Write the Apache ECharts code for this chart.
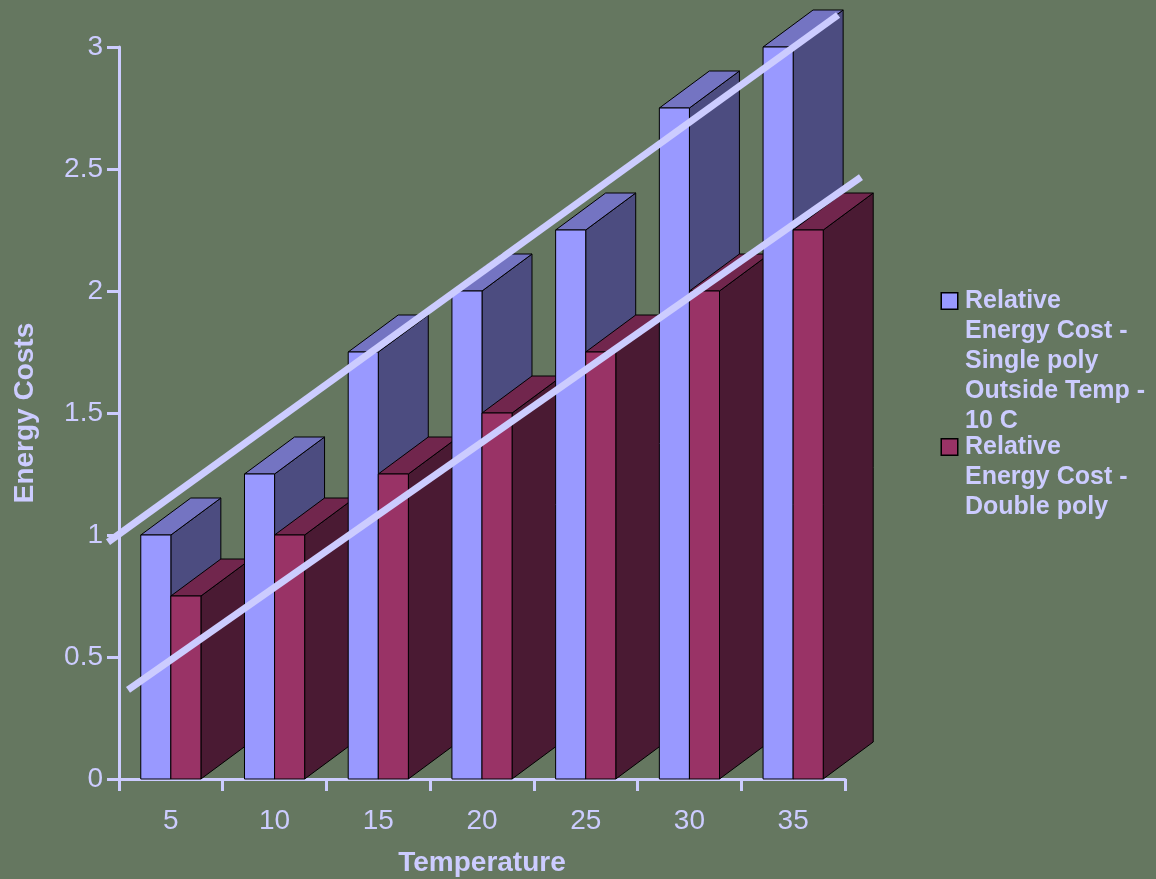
<!DOCTYPE html>
<html>
<head>
<meta charset="utf-8">
<title>Energy Costs vs Temperature</title>
<script src="https://cdn.jsdelivr.net/npm/echarts@6/dist/echarts.min.js"></script>
<style>
  html, body { margin: 0; padding: 0; background: #657760; }
  #chart { width: 1156px; height: 879px; }
</style>
</head>
<body>
<div id="chart"></div>
<script>
// Temperature categories along the x axis
const temperatures = ['5', '10', '15', '20', '25', '30', '35'];

// Relative energy cost per series
const singlePoly = [1, 1.25, 1.75, 2, 2.25, 2.75, 3];
const doublePoly = [0.75, 1, 1.25, 1.5, 1.75, 2, 2.25];

// Trend line end points: [category position, cost, category position, cost]
const trendSingle = [-0.106, 0.971, 6.933, 3.131];
const trendDouble = [0.087, 0.365, 7.154, 2.467];

// Y axis ticks
const yTicks = { min: 0, max: 3, interval: 0.5 };

// Legend wording, one entry per line
const singleName = 'Relative Energy Cost - Single poly Outside Temp - 10 C';
const doubleName = 'Relative Energy Cost - Double poly';
const legendLines = {};
legendLines[singleName] = ['Relative', 'Energy Cost -', 'Single poly', 'Outside Temp -', '10 C'];
legendLines[doubleName] = ['Relative', 'Energy Cost -', 'Double poly'];

const FONT = '"Liberation Sans", Arial, Helvetica, sans-serif';
const INK = '#CCCCFF';

const palette = {
  single: { front: '#9999FF', top: '#7474C2', side: '#4C4C80' },
  double: { front: '#993366', top: '#71264D', side: '#4A1A33' }
};

// Pseudo-3D bar: front face, top face and right side face.
function makeBar3D(colors, slot) {
  return function (params, api) {
    const i = api.value(0);
    const v = api.value(1);
    const top = api.coord([i, v]);
    const base = api.coord([i, 0]);
    const band = api.size([1, 0])[0];
    const w = band * 0.29;
    const dx = band * 0.482;
    const dy = dx * 0.74;
    const x0 = top[0] + (slot === 0 ? -w : 0);
    const x1 = x0 + w;
    const yT = top[1];
    const yB = base[1];
    const z2 = i * 2 + slot;
    const stroke = { stroke: '#000', lineWidth: 1, lineJoin: 'miter' };
    return {
      type: 'group',
      children: [
        {
          type: 'polygon', z2: z2,
          shape: { points: [[x1, yT], [x1 + dx, yT - dy], [x1 + dx, yB - dy], [x1, yB]] },
          style: Object.assign({ fill: colors.side }, stroke)
        },
        {
          type: 'polygon', z2: z2,
          shape: { points: [[x0, yT], [x1, yT], [x1 + dx, yT - dy], [x0 + dx, yT - dy]] },
          style: Object.assign({ fill: colors.top }, stroke)
        },
        {
          type: 'rect', z2: z2,
          shape: { x: x0, y: yT, width: w, height: yB - yT },
          style: Object.assign({ fill: colors.front }, stroke)
        }
      ]
    };
  };
}

// Straight trend line between two points in axis units (not clipped to the grid).
function renderTrend(params, api) {
  const p1 = api.coord([api.value(0), api.value(1)]);
  const p2 = api.coord([api.value(2), api.value(3)]);
  return {
    type: 'line',
    shape: { x1: p1[0], y1: p1[1], x2: p2[0], y2: p2[1] },
    style: { stroke: INK, lineWidth: 7, lineCap: 'butt' }
  };
}

const chart = echarts.init(document.getElementById('chart'), null, { renderer: 'canvas' });

const axisLine = { show: true, lineStyle: { color: INK, width: 3 } };
const axisTick = { show: true, length: 12, lineStyle: { color: INK, width: 3 } };

chart.setOption({
  backgroundColor: '#657760',
  animation: false,
  textStyle: { fontFamily: FONT },
  grid: { left: 119, right: 311, top: 47, bottom: 100, containLabel: false, outerBoundsMode: 'none' },
  legend: {
    orient: 'vertical',
    left: 932,
    top: 281,
    itemWidth: 0,
    itemHeight: 14,
    itemGap: -4,
    selectedMode: false,
    data: [singleName, doubleName],
    formatter: function (name) {
      const key = name === singleName ? 'sq0' : 'sq1';
      return legendLines[name].map(function (line, k) {
        return (k === 0 ? '{' + key + '|}{gap|}' : '{pad|}') + '{t|' + line + '}';
      }).join('\n');
    },
    textStyle: {
      color: INK,
      fontFamily: FONT,
      fontSize: 25,
      fontWeight: 'bold',
      lineHeight: 30,
      rich: {
        sq0: { width: 15, height: 15, backgroundColor: palette.single.front, borderColor: '#000', borderWidth: 1.5 },
        sq1: { width: 15, height: 15, backgroundColor: palette.double.front, borderColor: '#000', borderWidth: 1.5 },
        gap: { width: 8 },
        pad: { width: 23 },
        t: { color: INK, fontFamily: FONT, fontSize: 25, fontWeight: 'bold', lineHeight: 30 }
      }
    }
  },
  xAxis: [
    {
      type: 'category',
      data: temperatures,
      boundaryGap: true,
      axisLine: axisLine,
      axisTick: axisTick,
      axisLabel: { color: INK, fontSize: 28, fontFamily: FONT, margin: 28 },
      splitLine: { show: false },
      name: 'Temperature',
      nameLocation: 'middle',
      nameGap: 70,
      nameTextStyle: { color: INK, fontSize: 28, fontWeight: 'bold', fontFamily: FONT }
    },
    {
      type: 'value',
      min: 0,
      max: temperatures.length,
      show: false
    }
  ],
  yAxis: {
    type: 'value',
    min: yTicks.min,
    max: yTicks.max,
    interval: yTicks.interval,
    axisLine: axisLine,
    axisTick: axisTick,
    axisLabel: { color: INK, fontSize: 28, fontFamily: FONT, margin: 16, padding: [6, 0, 0, 0] },
    splitLine: { show: false },
    name: 'Energy Costs',
    nameLocation: 'middle',
    nameGap: 80,
    nameTextStyle: { color: INK, fontSize: 28, fontWeight: 'bold', fontFamily: FONT }
  },
  series: [
    {
      name: singleName,
      type: 'custom',
      xAxisIndex: 0,
      itemStyle: { color: palette.single.front },
      renderItem: makeBar3D(palette.single, 0),
      encode: { x: 0, y: 1 },
      data: singlePoly.map(function (v, i) { return [i, v]; }),
      z: 2
    },
    {
      name: doubleName,
      type: 'custom',
      xAxisIndex: 0,
      itemStyle: { color: palette.double.front },
      renderItem: makeBar3D(palette.double, 1),
      encode: { x: 0, y: 1 },
      data: doublePoly.map(function (v, i) { return [i, v]; }),
      z: 2
    },
    {
      name: 'trend',
      type: 'custom',
      xAxisIndex: 1,
      renderItem: renderTrend,
      encode: { x: [0, 2], y: [1, 3] },
      data: [trendSingle, trendDouble],
      silent: true,
      z: 10
    }
  ]
});
</script>
</body>
</html>
